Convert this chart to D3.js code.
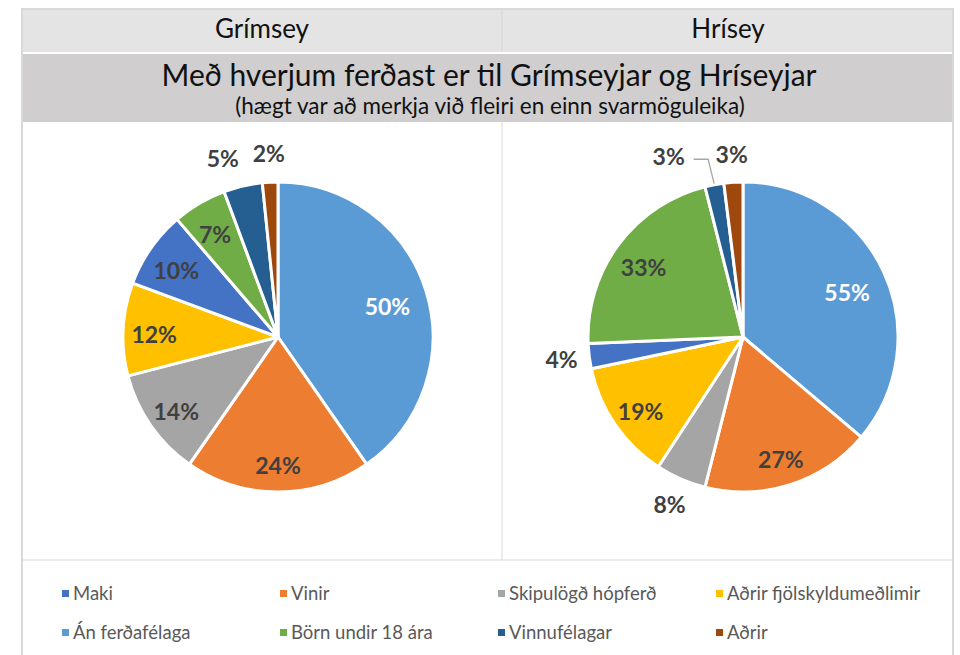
<!DOCTYPE html>
<html>
<head>
<meta charset="utf-8">
<script src="https://cdn.jsdelivr.net/npm/d3@7"></script>
<style>
  body { margin: 0; background: #fff; }
  svg text { font-family: Lato, "Open Sans", sans-serif; }
</style>
</head>
<body>
<div id="chart"></div>
<script>
// slices go clockwise from 12 o'clock in this order
const categories = ["Án ferðafélaga", "Vinir", "Skipulögð hópferð", "Aðrir fjölskyldumeðlimir", "Maki", "Börn undir 18 ára", "Vinnufélagar", "Aðrir"];
const grimsey = [50, 24, 14, 12, 10, 7, 5, 2];
const hrisey = [55, 27, 8, 19, 4, 33, 3, 3];
const islands = ["Grímsey", "Hrísey"];
const legendOrder = ["Maki", "Vinir", "Skipulögð hópferð", "Aðrir fjölskyldumeðlimir", "Án ferðafélaga", "Börn undir 18 ára", "Vinnufélagar", "Aðrir"];
const colors = ["#5b9bd5", "#ed7d31", "#a5a5a5", "#ffc000", "#4472c4", "#70ad47", "#255e91", "#9e480e"];
const title = "Með hverjum ferðast er til Grímseyjar og Hríseyjar";
const subtitle = "(hægt var að merkja við fleiri en einn svarmöguleika)";

const w = 960, h = 655;
const boxL = 22, boxR = 953, boxT = 9, mid = 502;

const svg = d3.select("#chart").append("svg")
  .attr("width", w).attr("height", h);

const color = d3.scaleOrdinal().domain(categories).range(colors);

// header bands
svg.append("rect").attr("x", boxL).attr("y", boxT).attr("width", boxR - boxL).attr("height", 43).attr("fill", "#e4e4e4");
svg.append("rect").attr("x", boxL).attr("y", 54).attr("width", boxR - boxL).attr("height", 68).attr("fill", "#d0cece");

// frame lines
const lineCol = "#d9d9d9";
svg.append("rect").attr("x", boxL).attr("y", boxT).attr("width", boxR - boxL).attr("height", h)
  .attr("fill", "none").attr("stroke", lineCol).attr("stroke-width", 2);
svg.append("line").attr("x1", mid).attr("x2", mid).attr("y1", boxT).attr("y2", 52).attr("stroke", "#d6d6d6");
svg.append("line").attr("x1", mid).attr("x2", mid).attr("y1", 122).attr("y2", 560).attr("stroke", lineCol);
svg.append("line").attr("x1", boxL).attr("x2", boxR).attr("y1", 560).attr("y2", 560).attr("stroke", lineCol);

// texts in header
const colCenter = d3.scalePoint().domain(islands).range([262, 728]);
svg.selectAll(".island").data(islands).enter().append("text")
  .attr("x", d => colCenter(d)).attr("y", 38)
  .attr("text-anchor", "middle").attr("font-size", 26).attr("fill", "#111")
  .text(d => d);

svg.append("text").attr("x", 489).attr("y", 86).attr("text-anchor", "middle")
  .attr("font-size", 30).attr("fill", "#111").text(title);
svg.append("text").attr("x", 490).attr("y", 114).attr("text-anchor", "middle")
  .attr("font-size", 22.5).attr("fill", "#111").text(subtitle);

// pies
const r = 155;
const pie = d3.pie().sort(null).value(d => d.v);
const arc = d3.arc().innerRadius(0).outerRadius(r);

function drawPie(values, cx, cy) {
  const data = values.map((v, i) => ({ k: categories[i], v: v }));
  const arcs = pie(data);
  const g = svg.append("g").attr("transform", "translate(" + cx + "," + cy + ")");

  g.selectAll("path").data(arcs).enter().append("path")
    .attr("d", arc)
    .attr("fill", d => color(d.data.k))
    .attr("stroke", "#fff").attr("stroke-width", 3).attr("stroke-linejoin", "round");

  const labels = arcs.map(d => {
    const span = d.endAngle - d.startAngle;
    const a = (d.startAngle + d.endAngle) / 2;
    const outside = span < 20 * Math.PI / 180;
    const lr = outside ? r * 1.18 : (span > Math.PI / 2 + 0.2 ? r * 0.74 : r * 0.8);
    return { d: d, a: a, outside: outside, x: Math.sin(a) * lr, y: -Math.cos(a) * lr, leader: false };
  });

  // push outside labels near the top apart (hacky, only going leftwards)
  const outs = labels.filter(l => l.outside && Math.cos(l.a) > 0.8);
  for (let i = outs.length - 2; i >= 0; i--) {
    const nxt = outs[i + 1];
    if (nxt.x - outs[i].x < 46) {
      const shift = outs[i].x - (nxt.x - 46);
      outs[i].x = nxt.x - 46;
      if (shift > 20) { outs[i].x -= 17; outs[i].leader = true; }
    }
  }

  labels.filter(l => l.leader).forEach(l => {
    const ex = Math.sin(l.a) * (r + 1), ey = -Math.cos(l.a) * (r + 1);
    g.append("polyline")
      .attr("points", [[l.x + 25, l.y + 2], [ex - 6, l.y + 2], [ex, ey]].map(p => p.join(",")).join(" "))
      .attr("fill", "none").attr("stroke", "#a6a6a6").attr("stroke-width", 1.3);
  });

  g.selectAll("text.lbl").data(labels).enter().append("text")
    .attr("class", "lbl")
    .attr("x", l => l.x).attr("y", l => l.y)
    .attr("dy", l => l.outside ? "0.35em" : "0.55em")
    .attr("text-anchor", "middle")
    .attr("font-size", 23).attr("font-weight", "bold")
    .attr("fill", l => (!l.outside && l.d.data.k === categories[0]) ? "#fff" : "#404040")
    .text(l => l.d.data.v + "%");
}

drawPie(grimsey, 278, 337);
drawPie(hrisey, 743, 337);

// legend
const legX = d3.scaleLinear().domain([0, 1]).range([62, 280]);
const leg = svg.selectAll(".leg").data(legendOrder).enter().append("g")
  .attr("transform", (d, i) => "translate(" + legX(i % 4) + "," + (i < 4 ? 594 : 633) + ")");
leg.append("rect").attr("x", 0).attr("y", -4).attr("width", 7).attr("height", 7)
  .attr("fill", d => color(d));
leg.append("text").attr("x", 11).attr("y", 0).attr("dy", "0.35em")
  .attr("font-size", 18.5).attr("fill", "#595959").text(d => d);
</script>
</body>
</html>
